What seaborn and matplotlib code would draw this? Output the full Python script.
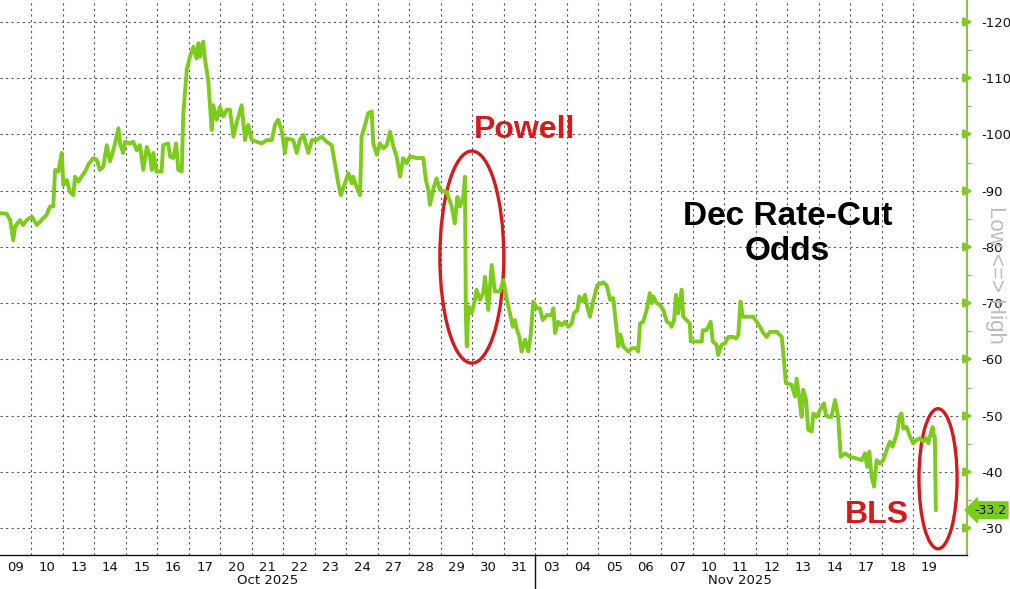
import matplotlib
matplotlib.use("Agg")
import matplotlib.pyplot as plt
import matplotlib.transforms as mtransforms
from matplotlib.patches import Ellipse
from matplotlib.lines import Line2D
import numpy as np
import seaborn as sns

# trading-day index (0 = Oct 09 open) and Dec rate-cut odds
t = [0.00, 0.21, 0.32, 0.42, 0.48, 0.63, 0.73, 0.85, 1.01, 1.17, 1.37, 1.48, 1.59, 1.69, 1.75, 1.85,
     1.96, 2.01, 2.12, 2.22, 2.33, 2.38, 2.49, 2.59, 2.70, 2.80, 2.96, 3.07, 3.17, 3.28, 3.39, 3.49,
     3.60, 3.76, 3.81, 3.91, 3.97, 4.13, 4.23, 4.34, 4.44, 4.55, 4.66, 4.76, 4.82, 4.87, 4.97, 5.13,
     5.18, 5.34, 5.40, 5.50, 5.59, 5.66, 5.77, 5.82, 5.93, 6.03, 6.14, 6.24, 6.30, 6.35, 6.45, 6.51,
     6.61, 6.72, 6.77, 6.88, 6.98, 7.09, 7.20, 7.30, 7.41, 7.51, 7.67, 7.78, 7.88, 7.99, 8.15, 8.31,
     8.47, 8.63, 8.73, 8.83, 8.94, 9.05, 9.10, 9.31, 9.42, 9.52, 9.63, 9.79, 9.90, 10.05, 10.21, 10.37,
     10.53, 10.63, 10.74, 10.82, 10.95, 11.06, 11.17, 11.21, 11.32, 11.43, 11.48, 11.59, 11.69, 11.80,
     11.85, 11.96, 12.06, 12.17, 12.28, 12.38, 12.49, 12.59, 12.70, 12.80, 12.91, 13.02, 13.23, 13.44,
     13.52, 13.60, 13.65, 13.76, 13.86, 13.97, 14.18, 14.34, 14.44, 14.52, 14.60, 14.71, 14.76, 14.79,
     14.82, 14.87, 14.97, 15.08, 15.13, 15.24, 15.34, 15.40, 15.50, 15.61, 15.71, 15.87, 15.98, 16.09,
     16.19, 16.28, 16.35, 16.40, 16.49, 16.56, 16.67, 16.77, 16.85, 16.93, 17.04, 17.14, 17.23, 17.36,
     17.51, 17.57, 17.62, 17.72, 17.83, 17.94, 18.04, 18.15, 18.22, 18.33, 18.39, 18.50, 18.57, 18.64,
     18.73, 18.83, 18.96, 19.15, 19.26, 19.37, 19.47, 19.58, 19.63, 19.70, 19.79, 19.95, 20.05, 20.21,
     20.26, 20.32, 20.42, 20.53, 20.63, 20.69, 20.74, 20.85, 20.95, 21.06, 21.17, 21.27, 21.32, 21.40,
     21.46, 21.53, 21.64, 21.69, 21.80, 21.90, 21.93, 22.12, 22.28, 22.31, 22.43, 22.56, 22.63, 22.75,
     22.80, 22.91, 23.02, 23.12, 23.28, 23.37, 23.44, 23.51, 23.58, 23.76, 23.91, 24.02, 24.13, 24.23,
     24.34, 24.44, 24.66, 24.82, 24.89, 24.95, 25.13, 25.24, 25.29, 25.37, 25.45, 25.50, 25.59, 25.66,
     25.77, 25.82, 25.93, 26.03, 26.16, 26.22, 26.30, 26.40, 26.51, 26.61, 26.69, 26.83, 26.98, 27.20,
     27.36, 27.46, 27.53, 27.60, 27.67, 27.75, 27.83, 27.94, 28.04, 28.15, 28.25, 28.34, 28.41, 28.49,
     28.55, 28.62, 28.68, 28.78, 28.89, 28.99, 29.10, 29.21, 29.31, 29.42, 29.47, 29.55, 29.61, 29.65,
     29.68, 29.71]
odds = [86.0, 85.9, 84.8, 81.2, 83.6, 84.8, 83.9, 84.8, 85.4, 83.9, 85.1, 85.7, 87.2, 87.2, 93.7, 93.4,
        96.7, 91.0, 91.9, 89.8, 89.2, 92.5, 91.6, 92.5, 93.4, 94.6, 95.8, 95.5, 93.7, 94.3, 98.1, 95.2,
        97.2, 101.1, 98.4, 96.7, 98.7, 98.4, 98.7, 97.2, 98.1, 93.7, 97.8, 96.1, 93.7, 96.7, 93.4, 93.4,
        98.1, 98.4, 96.1, 95.8, 98.4, 93.7, 93.4, 103.8, 111.5, 113.8, 115.6, 113.5, 116.2, 113.8, 116.5, 113.2,
        109.7, 100.8, 105.2, 102.6, 104.9, 103.2, 104.4, 104.4, 99.6, 102.0, 105.2, 99.0, 101.7, 99.0, 98.7, 98.4,
        99.0, 99.0, 101.7, 102.6, 100.8, 96.7, 99.3, 99.0, 96.7, 99.0, 99.9, 96.7, 99.0, 99.0, 99.6, 98.7,
        98.1, 94.9, 91.3, 89.2, 91.3, 93.1, 91.3, 92.5, 90.7, 89.2, 99.6, 101.7, 103.8, 104.1,
        98.4, 96.4, 98.4, 97.5, 98.1, 100.5, 97.8, 96.1, 92.5, 95.8, 94.9, 96.1, 95.8, 95.8,
        91.9, 90.1, 87.5, 90.4, 92.2, 90.1, 89.8, 87.2, 84.2, 88.9, 87.2, 88.9, 92.5, 67.6,
        62.3, 69.4, 68.2, 70.6, 72.4, 70.6, 71.8, 74.7, 68.8, 76.8, 72.1, 72.1, 74.1, 70.6,
        68.2, 65.8, 67.0, 65.5, 64.0, 61.4, 63.5, 61.4, 64.4, 70.3, 69.1, 69.1, 67.0, 67.9,
        67.9, 69.1, 64.7, 66.7, 66.1, 66.7, 65.8, 66.4, 68.2, 68.8, 71.2, 70.3, 71.5, 69.4,
        67.6, 70.3, 73.2, 73.7, 73.2, 70.6, 70.9, 64.9, 62.3, 64.4, 62.3, 61.4, 62.0, 62.0,
        61.4, 66.4, 66.7, 68.8, 71.8, 70.0, 71.2, 70.0, 69.7, 68.8, 66.7, 66.4, 65.8, 67.0,
        71.5, 68.2, 72.4, 67.6, 67.0, 66.4, 63.2, 63.2, 63.2, 65.2, 65.2, 66.7, 63.2, 62.6,
        60.8, 62.6, 62.9, 64.0, 64.0, 63.7, 64.4, 70.3, 67.6, 67.6, 67.6, 66.7, 65.8, 64.7,
        64.0, 64.9, 64.9, 64.0, 59.6, 55.8, 55.5, 53.4, 56.6, 53.4, 49.8, 54.6, 52.8, 47.5,
        47.2, 50.4, 49.8, 51.0, 52.2, 50.1, 49.8, 49.8, 52.8, 49.8, 42.7, 43.3, 42.7, 42.4,
        42.1, 43.3, 40.9, 43.6, 39.2, 37.4, 42.1, 41.5, 42.1, 43.9, 45.4, 44.5, 45.7, 47.2,
        49.8, 50.4, 47.7, 48.0, 46.3, 45.1, 45.7, 46.0, 45.4, 46.0, 45.1, 46.9, 48.0, 46.3,
        46.3, 33.2]

day_labels = ['09', '10', '13', '14', '15', '16', '17', '20', '21', '22', '23', '24', '27', '28', '29',
              '30', '31', '03', '04', '05', '06', '07', '10', '11', '12', '13', '14', '17', '18', '19']
months = ['Oct 2025', 'Nov 2025']
month_days = [17, 13]

green = '#7ccc1c'
red = '#d7191c'

sns.set_theme(style='white')
plt.rcParams['font.family'] = ['DejaVu Sans']

fig = plt.figure(figsize=(10.1, 5.89), dpi=100)
ax = fig.add_axes([0.0, 0.0577, 967 / 1010, 1 - 0.0577])

sns.lineplot(x=t, y=odds, ax=ax, color=green, linewidth=2.8, estimator=None, sort=False)

ndays = len(day_labels)
ax.set_xlim(0, 30.7)
ax.set_ylim(25.24, 123.9)

# grid: day boundaries + every 10 pts
ax.set_xticks(np.arange(1, ndays))
ax.set_xticks(np.arange(ndays) + 0.5, minor=True)
ax.set_xticklabels([], minor=False)
ax.set_xticklabels(day_labels, minor=True)
ax.tick_params(axis='x', which='both', length=0, labelsize=9.5, colors='#111111', pad=4)
ax.xaxis.grid(True, which='major', linestyle=(0, (2, 3)), color='#555555', linewidth=0.8)

yt = np.arange(30, 121, 10)
ax.set_yticks(yt)
ax.set_yticks(np.arange(35, 121, 10), minor=True)
ax.set_yticklabels([f'-{v}' for v in yt])
ax.yaxis.tick_right()
ax.yaxis.grid(True, which='major', linestyle=(0, (2, 3)), color='#555555', linewidth=0.8)
ax.tick_params(axis='y', which='major', labelsize=9.5, colors='#111111', pad=4)
ax.tick_params(axis='y', which='minor', length=3, color='#999999', width=0.8, right=True)
for tk in ax.yaxis.get_major_ticks():
    tk.tick2line.set_marker('>')
    tk.tick2line.set_markersize(6)
    tk.tick2line.set_markerfacecolor(green)
    tk.tick2line.set_markeredgecolor(green)
    tk.tick1line.set_visible(False)
ax.set_ylabel('')

for s in ['left', 'top']:
    ax.spines[s].set_visible(False)
ax.spines['right'].set_color('#8cc63f')
ax.spines['right'].set_linewidth(1.5)
ax.spines['bottom'].set_color('#111111')
ax.spines['bottom'].set_linewidth(1.0)

# month labels and separator
trans = mtransforms.blended_transform_factory(ax.transData, ax.transAxes)
start = 0
for m, n in zip(months, month_days):
    ax.text(start + n / 2, -0.046, m, transform=trans, ha='center', va='center',
            fontsize=9.5, color='#111111')
    start += n
ax.add_line(Line2D([month_days[0], month_days[0]], [0, -0.07], transform=trans,
                   color='#111111', linewidth=1.0, clip_on=False))

# annotations
ax.add_patch(Ellipse((14.98, 78.2), 2.03, 37.7, fill=False, edgecolor=red, linewidth=2.4))
ax.add_patch(Ellipse((29.78, 38.8), 1.21, 24.9, fill=False, edgecolor=red, linewidth=2.4))
ax.text(16.65, 100.8, 'Powell', color=red, fontsize=23, fontweight='bold',
        family='Liberation Sans', ha='center', va='center')
ax.text(27.85, 32.4, 'BLS', color=red, fontsize=23, fontweight='bold',
        family='Liberation Sans', ha='center', va='center')
ax.text(25.0, 82.3, 'Dec Rate-Cut\nOdds', color='black', fontsize=24, fontweight='bold',
        family='Liberation Sans', ha='center', va='center', linespacing=1.15)

ytrans = mtransforms.blended_transform_factory(ax.transAxes, ax.transData)
ax.text(1.029, 75.0, 'Low <=> High', transform=ytrans, rotation=270, color='#bdbdbd',
        fontsize=16, family=['Liberation Sans Narrow', 'Liberation Sans'],
        ha='center', va='center')

ax.annotate(f'-{odds[-1]:.1f}', xy=(1.0, odds[-1]), xycoords=ytrans,
            xytext=(5, 0), textcoords='offset points', ha='left', va='center',
            fontsize=9, color='#111111',
            bbox=dict(boxstyle='larrow,pad=0.15', facecolor=green, edgecolor=green))

fig.savefig('out.png', dpi=100)
